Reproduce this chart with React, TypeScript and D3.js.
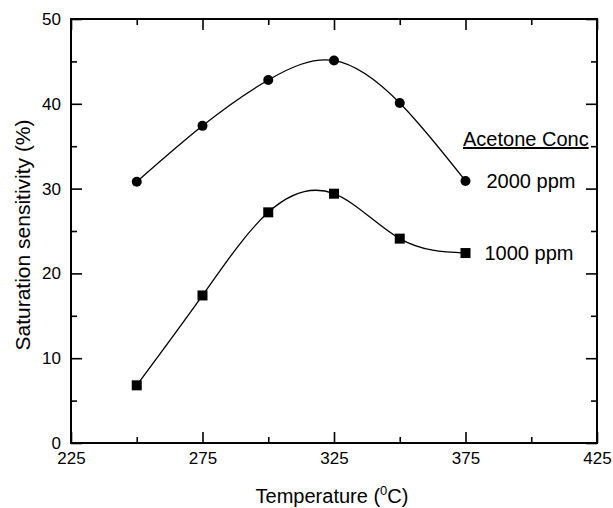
import { useEffect, useRef } from 'react'
import * as d3 from 'd3'

const TEMPS = [250, 275, 300, 325, 350, 375]
const SENS_2000 = [30.8, 37.4, 42.8, 45.1, 40.1, 30.9]
const SENS_1000 = [6.8, 17.4, 27.2, 29.4, 24.1, 22.4]
const SERIES_LABELS = ['2000 ppm', '1000 ppm']
const X_TICKS = [225, 275, 325, 375, 425]
const X_MINOR = [250, 300, 350, 400]
const Y_TICKS = [0, 10, 20, 30, 40, 50]
const Y_MINOR = [5, 15, 25, 35, 45]

const W = 613
const H = 508
const FONT = '"Liberation Sans", Arial, sans-serif'

export default function App() {
  const svgRef = useRef<SVGSVGElement | null>(null)

  useEffect(() => {
    const svg = d3.select(svgRef.current)
    svg.selectAll('*').remove()

    const left = 71, right = 597, top = 19, bottom = 443
    const x = d3.scaleLinear().domain([225, 425]).range([left, right])
    const y = d3.scaleLinear().domain([0, 50]).range([bottom, top])

    const g = svg.append('g')

    // inward ticks on all four sides
    const addAxis = (axis: any, tr: string, labels: boolean) => {
      const a = g.append('g').attr('transform', tr).call(axis)
      a.select('.domain').remove()
      a.selectAll('line').attr('stroke', '#000').attr('stroke-width', 1.6)
      if (!labels) a.selectAll('text').remove()
      else a.selectAll('text').attr('fill', '#000').attr('font-family', FONT).attr('font-size', 17)
      return a
    }

    addAxis(d3.axisBottom(x).tickValues(X_TICKS).tickSize(-11).tickPadding(9).tickFormat(d3.format('d')),
      `translate(0,${bottom})`, true)
    addAxis(d3.axisBottom(x).tickValues(X_MINOR).tickSize(-6), `translate(0,${bottom})`, false)
    addAxis(d3.axisTop(x).tickValues(X_TICKS).tickSize(-11), `translate(0,${top})`, false)
    addAxis(d3.axisTop(x).tickValues(X_MINOR).tickSize(-6), `translate(0,${top})`, false)
    addAxis(d3.axisLeft(y).tickValues(Y_TICKS).tickSize(-11).tickPadding(10).tickFormat(d3.format('d')),
      `translate(${left},0)`, true)
    addAxis(d3.axisLeft(y).tickValues(Y_MINOR).tickSize(-6), `translate(${left},0)`, false)
    addAxis(d3.axisRight(y).tickValues(Y_TICKS).tickSize(-11), `translate(${right},0)`, false)
    addAxis(d3.axisRight(y).tickValues(Y_MINOR).tickSize(-6), `translate(${right},0)`, false)

    g.append('rect')
      .attr('x', left).attr('y', top)
      .attr('width', right - left).attr('height', bottom - top)
      .attr('fill', 'none').attr('stroke', '#000').attr('stroke-width', 2)

    const line = d3.line<[number, number]>()
      .x((d) => x(d[0]))
      .y((d) => y(d[1]))
      .curve(d3.curveNatural)

    const s2000: [number, number][] = TEMPS.map((t, i) => [t, SENS_2000[i]])
    const s1000: [number, number][] = TEMPS.map((t, i) => [t, SENS_1000[i]])

    g.append('path').attr('d', line(s2000)).attr('fill', 'none').attr('stroke', '#000').attr('stroke-width', 1.3)
    g.append('path').attr('d', line(s1000)).attr('fill', 'none').attr('stroke', '#000').attr('stroke-width', 1.3)

    g.selectAll('.c2000').data(s2000).join('circle')
      .attr('cx', (d) => x(d[0])).attr('cy', (d) => y(d[1])).attr('r', 5).attr('fill', '#000')

    const sq = 10
    g.selectAll('.s1000').data(s1000).join('rect')
      .attr('x', (d) => x(d[0]) - sq / 2).attr('y', (d) => y(d[1]) - sq / 2)
      .attr('width', sq).attr('height', sq).attr('fill', '#000')

    // legend
    g.append('text')
      .attr('x', 463).attr('y', 146)
      .attr('font-family', FONT).attr('font-size', 20)
      .attr('text-decoration', 'underline')
      .text('Acetone Conc')
    g.append('text')
      .attr('x', x(375) + 21).attr('y', y(SENS_2000[5]) + 7)
      .attr('font-family', FONT).attr('font-size', 20)
      .text(SERIES_LABELS[0])
    g.append('text')
      .attr('x', x(375) + 19).attr('y', y(SENS_1000[5]) + 7)
      .attr('font-family', FONT).attr('font-size', 20)
      .text(SERIES_LABELS[1])

    // axis titles
    const xt = g.append('text')
      .attr('x', 332).attr('y', 503)
      .attr('text-anchor', 'middle')
      .attr('font-family', FONT).attr('font-size', 20)
    xt.append('tspan').text('Temperature (')
    xt.append('tspan').attr('dy', -8).attr('font-size', 13).text('0')
    xt.append('tspan').attr('dy', 8).text('C)')

    g.append('text')
      .attr('transform', `translate(30,${(top + bottom) / 2 + 4}) rotate(-90)`)
      .attr('text-anchor', 'middle')
      .attr('font-family', FONT).attr('font-size', 21)
      .text('Saturation sensitivity (%)')
  }, [])

  return (
    <svg ref={svgRef} width={W} height={H}
      style={{ position: 'absolute', left: 0, top: 0, background: '#fff' }} />
  )
}
